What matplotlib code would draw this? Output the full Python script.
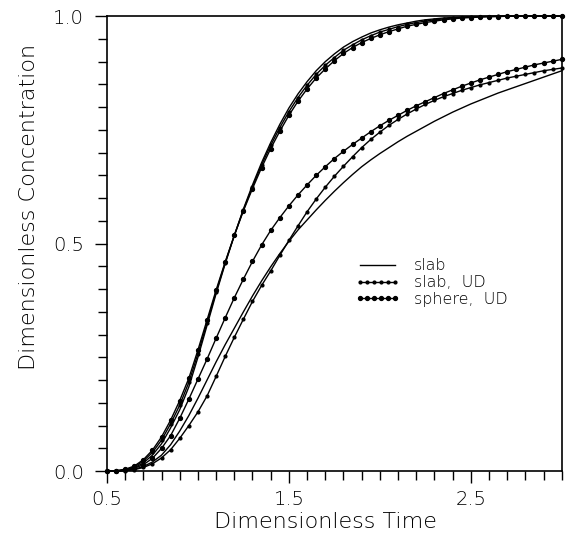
import numpy as np
import matplotlib
matplotlib.use("Agg")
import matplotlib.pyplot as plt
from matplotlib.ticker import MultipleLocator, FormatStrFormatter

plt.rcParams['font.family'] = ['DejaVu Sans']
plt.rcParams['font.weight'] = 'light'

# dimensionless time grid (sampling of the curves)
t = np.round(np.arange(0.5, 3.0001, 0.05), 2)

# fast group
fast_slab = [0.000, 0.000, 0.002, 0.007, 0.018, 0.035, 0.060, 0.095, 0.135, 0.185,
             0.250, 0.320, 0.390, 0.456, 0.518, 0.576, 0.629, 0.678, 0.722, 0.762,
             0.798, 0.829, 0.856, 0.880, 0.900, 0.917, 0.932, 0.944, 0.954, 0.963,
             0.970, 0.976, 0.981, 0.985, 0.989, 0.992, 0.994, 0.996, 0.997, 0.998,
             0.999, 0.999, 1.000, 1.000, 1.000, 1.000, 1.000, 1.000, 1.000, 1.000, 1.000]
fast_slab_ud = [0.000, 0.000, 0.003, 0.009, 0.022, 0.041, 0.068, 0.104, 0.145, 0.195,
                0.258, 0.326, 0.394, 0.458, 0.518, 0.574, 0.625, 0.673, 0.716, 0.755,
                0.790, 0.821, 0.848, 0.872, 0.892, 0.909, 0.925, 0.937, 0.948, 0.957,
                0.965, 0.971, 0.977, 0.982, 0.986, 0.989, 0.992, 0.994, 0.996, 0.997,
                0.998, 0.999, 0.999, 1.000, 1.000, 1.000, 1.000, 1.000, 1.000, 1.000, 1.000]
fast_sphere_ud = [0.000, 0.001, 0.004, 0.011, 0.025, 0.046, 0.075, 0.112, 0.155, 0.204,
                  0.266, 0.332, 0.398, 0.460, 0.518, 0.572, 0.621, 0.667, 0.709, 0.747,
                  0.782, 0.813, 0.840, 0.864, 0.884, 0.902, 0.918, 0.931, 0.942, 0.951,
                  0.959, 0.966, 0.972, 0.978, 0.982, 0.986, 0.989, 0.992, 0.994, 0.996,
                  0.997, 0.998, 0.999, 0.999, 1.000, 1.000, 1.000, 1.000, 1.000, 1.000, 1.000]

# slow group
slow_slab = [0.000, 0.000, 0.001, 0.004, 0.010, 0.020, 0.035, 0.058, 0.088, 0.122,
             0.160, 0.200, 0.240, 0.278, 0.314, 0.350, 0.385, 0.418, 0.449, 0.478,
             0.505, 0.530, 0.552, 0.574, 0.595, 0.615, 0.634, 0.652, 0.669, 0.684,
             0.698, 0.711, 0.724, 0.736, 0.747, 0.758, 0.769, 0.779, 0.789, 0.798,
             0.807, 0.815, 0.823, 0.831, 0.838, 0.845, 0.852, 0.859, 0.866, 0.873, 0.880]
slow_slab_ud = [0.000, 0.000, 0.001, 0.003, 0.008, 0.016, 0.029, 0.047, 0.072, 0.100,
                0.130, 0.165, 0.208, 0.252, 0.294, 0.334, 0.373, 0.408, 0.440, 0.474,
                0.507, 0.539, 0.570, 0.598, 0.624, 0.648, 0.670, 0.691, 0.711, 0.729,
                0.745, 0.760, 0.773, 0.785, 0.796, 0.806, 0.815, 0.823, 0.830, 0.837,
                0.843, 0.849, 0.854, 0.859, 0.864, 0.868, 0.872, 0.876, 0.880, 0.883, 0.886]
slow_sphere_ud = [0.000, 0.000, 0.002, 0.006, 0.014, 0.028, 0.050, 0.078, 0.116, 0.158,
                  0.202, 0.246, 0.292, 0.337, 0.381, 0.422, 0.461, 0.497, 0.529, 0.557,
                  0.583, 0.607, 0.629, 0.650, 0.669, 0.687, 0.703, 0.718, 0.732, 0.746,
                  0.759, 0.771, 0.782, 0.793, 0.803, 0.812, 0.821, 0.830, 0.838, 0.846,
                  0.853, 0.860, 0.866, 0.872, 0.878, 0.883, 0.888, 0.893, 0.897, 0.901, 0.905]

labels = ["slab", "slab,  UD", "sphere,  UD"]

fig = plt.figure(figsize=(5.75, 5.39), dpi=100)
ax = fig.add_axes([0.186, 0.126, 0.791, 0.844])

plain = dict(color='black', lw=1.0, clip_on=False)
small = dict(color='black', lw=1.0, marker='o', ms=2.0, clip_on=False)
big = dict(color='black', lw=1.0, marker='o', ms=2.8, clip_on=False)

ax.plot(t, fast_slab, label=labels[0], **plain)
ax.plot(t, fast_slab_ud, label=labels[1], **small)
ax.plot(t, fast_sphere_ud, label=labels[2], **big)
ax.plot(t, slow_slab, **plain)
ax.plot(t, slow_slab_ud, **small)
ax.plot(t, slow_sphere_ud, **big)

ax.set_xlim(0.5, 3.0)
ax.set_ylim(0.0, 1.0)
ax.set_xticks([0.5, 1.5, 2.5])
ax.set_yticks([0.0, 0.5, 1.0])
ax.xaxis.set_minor_locator(MultipleLocator(0.1))
ax.yaxis.set_minor_locator(MultipleLocator(0.05))
ax.xaxis.set_major_formatter(FormatStrFormatter('%.1f'))
ax.yaxis.set_major_formatter(FormatStrFormatter('%.1f'))
ax.tick_params(which='major', direction='out', length=8.5, width=1.0, labelsize=14)
ax.tick_params(axis='x', which='major', pad=5)
ax.tick_params(axis='y', which='major', pad=8)
ax.tick_params(which='minor', direction='out', length=6.5, width=1.0)
for s in ax.spines.values():
    s.set_linewidth(1.2)

ax.set_xlabel("Dimensionless Time", fontsize=16, fontweight='light')
ax.set_ylabel("Dimensionless Concentration", fontsize=16, fontweight='light')
ax.xaxis.set_label_coords(0.48, -0.09)
ax.yaxis.set_label_coords(-0.15, 0.58)

ax.legend(loc='upper left', bbox_to_anchor=(0.545, 0.468), frameon=False,
          fontsize=11.5, handlelength=2.8, handletextpad=0.9, labelspacing=0.12,
          numpoints=6, borderaxespad=0, borderpad=0)

plt.savefig("out.png", dpi=100, facecolor='white')
